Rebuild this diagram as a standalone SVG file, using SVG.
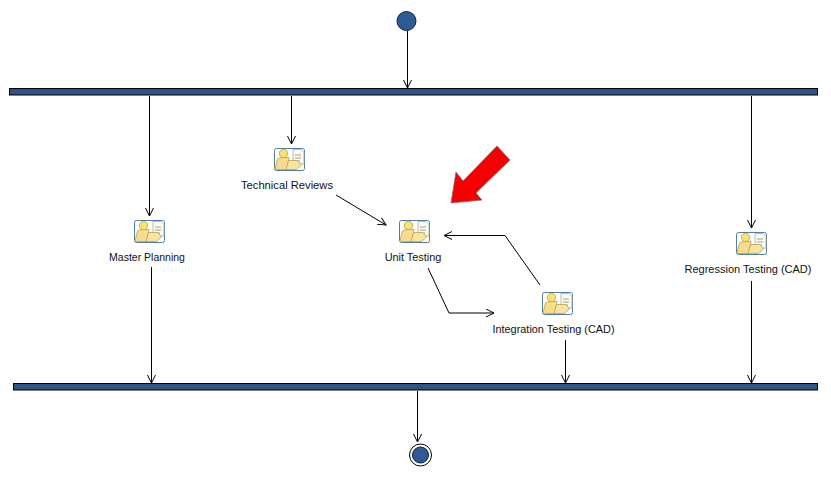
<svg xmlns="http://www.w3.org/2000/svg" width="831" height="478" viewBox="0 0 831 478">
<style>
text{font-family:"Liberation Sans",Arial,sans-serif;font-size:10.9px;fill:#111;text-anchor:middle}
.bar{fill:#2f5386;stroke:#000;stroke-width:1}
.c{fill:none;stroke:#000;stroke-width:1}
.dot{fill:#2f5a94;stroke:#10233f;stroke-width:1}
</style>
<defs>
<marker id="a" markerWidth="9" markerHeight="9" refX="8" refY="4" orient="auto" markerUnits="userSpaceOnUse"><path d="M0 0L8 4L0 8" fill="none" stroke="#000" stroke-width="1"/></marker>
<symbol id="icon" width="32" height="24" viewBox="0 0 32 24">
<rect x="0.500" y="0.500" width="30" height="22" rx="2" fill="#fff" stroke="#4f7fa8"/>
<path d="M19 1.500H27L30 4.500V16H19Z" fill="#fbfbf2" stroke="#b0a890" stroke-width=".8"/>
<path d="M21 7H27M21 10H27M21 13H26" stroke="#8f8a70" stroke-width=".8"/>
<circle cx="9.500" cy="5.500" r="4.200" fill="#f6e275" stroke="#b89f3c" stroke-width=".8"/>
<path d="M3.500 11Q5 9.500 9 9.500H15L13 21.500H0.800Z" fill="#f6dc8c" stroke="#b89f50" stroke-width=".8"/>
<path d="M14.500 12.500H24L27.500 17L22.500 21.500H12Z" fill="#f9e3a0" stroke="#b89f50" stroke-width=".8"/>
</symbol>
</defs>
<rect width="831" height="478" fill="#fff"/>
<g id="connectors">
<path class="c" marker-end="url(#a)" d="M407.500 31V88"/>
<path class="c" marker-end="url(#a)" d="M149.500 96V216"/>
<path class="c" marker-end="url(#a)" d="M291.500 96V144"/>
<path class="c" marker-end="url(#a)" d="M751.500 96V228"/>
<path class="c" marker-end="url(#a)" d="M336 195L386 225"/>
<path class="c" marker-end="url(#a)" d="M428 268L449 313H494"/>
<path class="c" marker-end="url(#a)" d="M540 285L505 235.500H444"/>
<path class="c" marker-end="url(#a)" d="M151.500 267V383"/>
<path class="c" marker-end="url(#a)" d="M565.500 340V383"/>
<path class="c" marker-end="url(#a)" d="M751.500 281V383"/>
<path class="c" marker-end="url(#a)" d="M417.500 391V442"/>
</g>
<g id="start"><circle class="dot" cx="406.500" cy="21" r="9.500"/></g>
<g id="fork"><rect class="bar" x="9.500" y="88.500" width="808" height="6.500"/></g>
<g id="join"><rect class="bar" x="13.500" y="383.500" width="804" height="6.500"/></g>
<g id="end"><circle cx="420.500" cy="455" r="11" fill="#fff" stroke="#000"/><circle class="dot" cx="420.500" cy="455" r="8"/></g>
<g id="master-planning"><use href="#icon" x="134" y="220"/><text x="147" y="261" font-size="10.500" style="font-size:10.500px">Master Planning</text></g>
<g id="technical-reviews"><use href="#icon" x="274" y="148"/><text x="287" y="189" style="font-size:11.200px">Technical Reviews</text></g>
<g id="unit-testing"><use href="#icon" x="399" y="220"/><text x="413" y="261">Unit Testing</text></g>
<g id="integration-testing"><use href="#icon" x="542" y="292"/><text x="553.500" y="333">Integration Testing (CAD)</text></g>
<g id="regression-testing"><use href="#icon" x="736" y="232"/><text x="748" y="273" style="font-size:11px">Regression Testing (CAD)</text></g>
<polygon id="red-arrow" points="497,146 510,160 476,193 482,200 451,203 456,172 463,181" fill="#f40000" stroke="#8a6a6a" stroke-width=".8"/>
</svg>
